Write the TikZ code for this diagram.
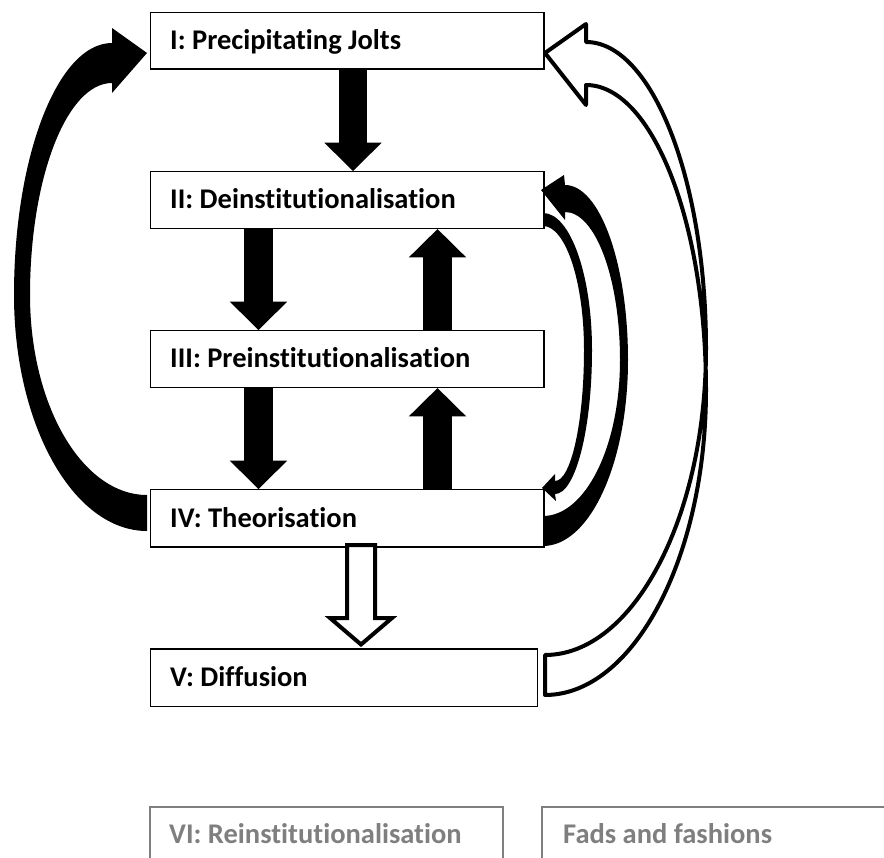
\documentclass[tikz,border=0pt]{standalone}
\usepackage{fontspec}
\setmainfont{Carlito}[Ligatures=NoCommon]
\usetikzlibrary{arrows.meta,calc}
\definecolor{ghost}{RGB}{127,127,127}
\tikzset{
  stage/.style={draw=black, line width=1.5pt, fill=white, minimum width=393.8pt,
    minimum height=56.6pt, anchor=north west, inner sep=0pt},
  ghostbox/.style={stage, draw=ghost},
  lbl/.style={anchor=base west, font=\bfseries\fontsize{28.5}{30}\selectfont, inner sep=0pt},
  ghostlbl/.style={lbl, text=ghost},
  blk/.style={line width=28.4pt, line cap=butt,
    -{Triangle[width=57.4pt,length=28.3pt,line width=0pt]}},
  hollow/.style={draw=black, fill=white, line width=4pt, line join=miter},
  curvedblack/.style={fill=black},
  curvedhollow/.style={draw=black, fill=white, line width=4pt, line join=round},
}
\begin{document}
\begin{tikzpicture}[x=1pt,y=-1pt]
\useasboundingbox (0,0) rectangle (884,858);
\begin{scope}
\clip (0,0) rectangle (884,858);
% boxes
\node[stage] (s1) at (149.5,11.7) {};
\node[stage] (s2) at (149.5,171) {};
\node[stage] (s3) at (149.5,330) {};
\node[stage, minimum height=57pt] (s4) at (149.5,489) {};
\node[stage, minimum width=387.2pt, minimum height=57.7pt] (s5) at (149.5,648) {};
\node[ghostbox, minimum width=353pt, minimum height=100pt] (s6) at (149,806) {};
\node[ghostbox, minimum width=400pt, minimum height=100pt] (s7) at (541,806) {};
% labels
\node[lbl] (t1) at (170,50) {I: Precipitating Jolts};
\node[lbl] (t2) at (170,209) {II: Deinstitutionalisation};
\node[lbl] (t3) at (170,367.5) {III: Preinstitutionalisation};
\node[lbl] (t4) at (170,527) {IV: Theorisation};
\node[lbl] (t5) at (170,686.5) {V: Diffusion};
\node[ghostlbl] (t6) at (169,843) {VI: Reinstitutionalisation};
\node[ghostlbl] (t7) at (563,843) {Fads and fashions};
% straight block arrows
\draw[blk] (353,0 |- s1.south) -- (353,0 |- s2.north);
\draw[blk] (258.5,0 |- s2.south) -- (258.5,0 |- s3.north);
\draw[blk] (258.5,0 |- s3.south) -- (258.5,0 |- s4.north);
\draw[blk] (437.5,0 |- s3.north) -- (437.5,0 |- s2.south);
\draw[blk] (437.5,0 |- s4.north) -- (437.5,0 |- s3.south);
% hollow arrow IV -> V
\draw[hollow] (347,545) -- (347,618) -- (330,618) -- (361,644.5) -- (392,618)
  -- (375,618) -- (375,545) -- cycle;
% left curved arrow IV -> I
\path[curvedblack] (147,53) -- (112,28) -- (112,43)
  .. controls (57.9,43) and (14,155.8) .. (14,295)
  .. controls (14,425.3) and (73.5,531) .. (147,531)
  -- (147,495)
  .. controls (82.4,495) and (30,405.5) .. (30,295)
  .. controls (30,177.9) and (66.7,83) .. (112,83)
  -- (112,93) -- cycle;
% right thick curved arrow IV -> II
\path[curvedblack] (541,190) -- (564,175) -- (565,185)
  .. controls (599.8,185) and (628,263.3) .. (628,360)
  .. controls (628,462.7) and (590,546) .. (543,546)
  -- (543,516)
  .. controls (585.5,516) and (620,446.2) .. (620,360)
  .. controls (620,278.3) and (595.4,212) .. (565,212)
  -- (565,220) -- cycle;
% right thin curved arrow II -> IV
\path[curvedblack] (543,213)
  .. controls (570.1,213) and (592,274.3) .. (592,350)
  .. controls (592,429.5) and (575.4,494) .. (555,494)
  -- (556,501) -- (542,488) -- (555,474) -- (555,481)
  .. controls (571,481) and (584,422.4) .. (584,350)
  .. controls (584,281.5) and (565.6,226) .. (543,226) -- cycle;
% hollow curved arrow V -> I
\path[curvedhollow] (545,53) -- (586,24) -- (586,42)
  .. controls (651.8,42) and (706,179.2) .. (706,348.5)
  .. controls (706,517.8) and (633,655) .. (545,655)
  -- (545,695)
  .. controls (633,695) and (706,558.5) .. (706,390)
  .. controls (706,221.5) and (651.8,85) .. (586,85)
  -- (586,105) -- cycle;
\end{scope}
\end{tikzpicture}
\end{document}
